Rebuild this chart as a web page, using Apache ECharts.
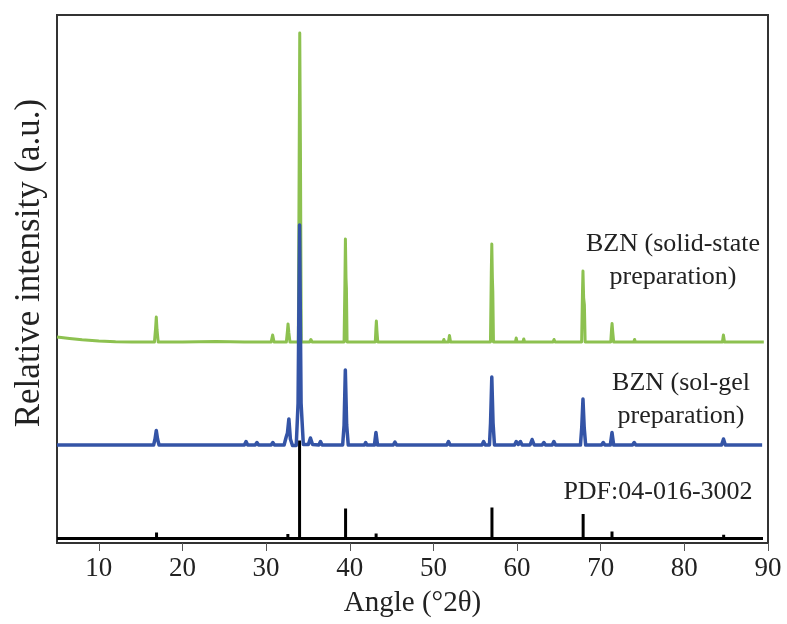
<!DOCTYPE html>
<html><head><meta charset="utf-8">
<script src="https://cdn.jsdelivr.net/npm/echarts@6/dist/echarts.min.js"></script>
<style>html,body{margin:0;padding:0;background:#fff}#c{width:787px;height:624px}</style>
</head><body><div id="c"></div>
<script>
// x tick labels
const xTicks = [10, 20, 30, 40, 50, 60, 70, 80, 90];

// BZN solid-state preparation pattern [2θ, intensity (a.u., offset)]
const solidState = [
[5,206],[6.5,204.5],[8,203.2],[10,202],[12,201.3],[14,201],[16.65,201],[16.78,214],[16.87,226],[16.96,213],[17.1,201],
[20,201],[24,201.5],[27.4,201],[27.6,202.5],[27.8,201],[30.6,201],[30.78,208],[30.95,201],
[32.42,201],[32.55,212],[32.62,219],[32.72,210],[32.85,201],
[33.85,201],[33.95,380],[34.02,510],[34.1,400],[34.2,201],
[35.2,201],[35.35,203.5],[35.5,201],
[39.32,201],[39.42,260],[39.48,304],[39.55,265],[39.6,255],[39.68,201],
[43.05,201],[43.13,215],[43.18,222],[43.25,212],[43.35,201],
[45.3,201],[45.4,202.5],[45.5,201],
[51.15,201],[51.25,203.5],[51.35,201],[51.8,201],[51.92,207.5],[52.05,201],
[56.82,201],[56.92,270],[56.98,299],[57.05,265],[57.1,252],[57.18,201],
[59.8,201],[59.9,205],[60.0,201],[60.7,201],[60.8,204],[60.9,201],
[64.3,201],[64.42,203.5],[64.55,201],
[67.72,201],[67.82,250],[67.88,272],[67.96,245],[68.05,238],[68.14,201],
[71.2,201],[71.3,214],[71.36,219.5],[71.43,212],[71.55,201],
[73.95,201],[74.05,203.5],[74.15,201],
[84.55,201],[84.67,208],[84.8,201],
[89.5,201]
];

// BZN sol-gel preparation pattern
const solGel = [
[5,98],[16.55,98],[16.72,104],[16.87,112.5],[17.02,104],[17.2,98],
[22,98],[27.4,98],[27.6,101.5],[27.8,98],[28.7,98],[28.9,100.5],[29.1,98],[30.6,98],[30.8,100.5],[31,98],
[32.15,98],[32.4,106],[32.55,110],[32.72,124],[32.9,104],[33.15,97.5],[33.6,97.5],[33.82,140],[34.0,318],[34.18,140],[34.45,98.5],
[35.05,98.5],[35.3,105],[35.55,98.5],[36.3,98],[36.5,101.5],[36.7,98],
[39.15,98],[39.32,118],[39.47,173],[39.63,118],[39.82,98],
[40.7,98],[40.85,100],[41,98],[41.75,98],[41.9,100.5],[42.05,98],
[42.95,98],[43.13,110.5],[43.32,98],
[45.2,98],[45.4,101],[45.6,98],
[51.6,98],[51.8,101.5],[52.0,98],
[55.8,98],[56.0,101.5],[56.2,98],[56.7,98],[56.83,120],[56.98,166],[57.13,120],[57.3,98],
[59.7,98],[59.9,101.5],[60.15,98.5],[60.4,101.5],[60.6,98],[61.55,98],[61.8,103.5],[62.05,98],[63.0,98],[63.2,100.5],[63.4,98],[64.2,98],[64.4,101.5],[64.6,98],
[67.58,98],[67.73,115],[67.88,144],[68.03,115],[68.2,98],
[70.1,98],[70.3,100.5],[70.5,98],
[71.15,98],[71.35,110.5],[71.55,98],
[73.8,98],[74.0,100.5],[74.2,98],
[84.45,98],[84.68,104],[84.9,98],
[89.3,98]
];

// PDF:04-016-3002 reference sticks
const pdfPos    = [16.9, 27.8, 32.6, 34.0, 39.5, 43.15, 51.9, 57.0, 59.9, 60.7, 64.4, 67.9, 71.35, 74.0, 80.1, 84.7];
const pdfHeight = [6,    1,    4.5,  98,   30,   5,     1.5,  31,   1.5,  1,    1.5,  24.5, 7,     1.5,  1,    3.8];
const pdfBase = 4.5;
const pdfRange = [5, 89.4];

const pdfData = [[pdfRange[0], pdfBase]];
pdfPos.forEach((p, i) => {
  pdfData.push([p, pdfBase], [p, pdfBase + pdfHeight[i]], [p, pdfBase]);
});
pdfData.push([pdfRange[1], pdfBase]);

const FONT = '"Liberation Serif", "Times New Roman", serif';
const chart = echarts.init(document.getElementById('c'));
chart.setOption({
  animation: false,
  backgroundColor: '#fff',
  grid: { left: 57, right: 19, top: 15, bottom: 81, show: true, borderColor: '#333', borderWidth: 2 },
  xAxis: {
    type: 'value', min: 5, max: 90,
    name: 'Angle (°2θ)', nameLocation: 'middle', nameGap: 46,
    nameTextStyle: { fontFamily: FONT, fontSize: 29, color: '#222' },
    axisLine: { show: true, lineStyle: { color: '#333', width: 1.5 } },
    axisTick: { show: true, customValues: xTicks, length: 8, lineStyle: { color: '#555', width: 1 } },
    axisLabel: { customValues: xTicks, fontFamily: FONT, fontSize: 27, color: '#222', margin: 12 },
    splitLine: { show: false }
  },
  yAxis: {
    type: 'value', min: 0, max: 528,
    axisLine: { show: false }, axisTick: { show: false }, axisLabel: { show: false }, splitLine: { show: false }
  },
  series: [
    { name: 'solid-state', type: 'line', data: solidState, symbol: 'none', z: 2,
      lineStyle: { color: '#8DC150', width: 3, join: 'round' } },
    { name: 'PDF', type: 'line', data: pdfData, symbol: 'none', z: 3,
      lineStyle: { color: '#000', width: 3, join: 'miter' } },
    { name: 'sol-gel', type: 'line', data: solGel, symbol: 'none', z: 4,
      lineStyle: { color: '#3454A6', width: 3.5, join: 'round' } }
  ],
  graphic: [
    { type: 'text', x: 30, y: 263, rotation: Math.PI / 2, z: 10,
      style: { text: 'Relative intensity (a.u.)', font: '35px ' + FONT, fill: '#222', align: 'center', verticalAlign: 'middle' } },
    { type: 'text', x: 673, y: 228, z: 10,
      style: { text: 'BZN (solid-state\npreparation)', font: '26px ' + FONT, fill: '#222', align: 'center', verticalAlign: 'top', lineHeight: 33 } },
    { type: 'text', x: 681, y: 367, z: 10,
      style: { text: 'BZN (sol-gel\npreparation)', font: '26px ' + FONT, fill: '#222', align: 'center', verticalAlign: 'top', lineHeight: 33 } },
    { type: 'text', x: 658, y: 476, z: 10,
      style: { text: 'PDF:04-016-3002', font: '26px ' + FONT, fill: '#222', align: 'center', verticalAlign: 'top', lineHeight: 32 } }
  ]
});
</script></body></html>
